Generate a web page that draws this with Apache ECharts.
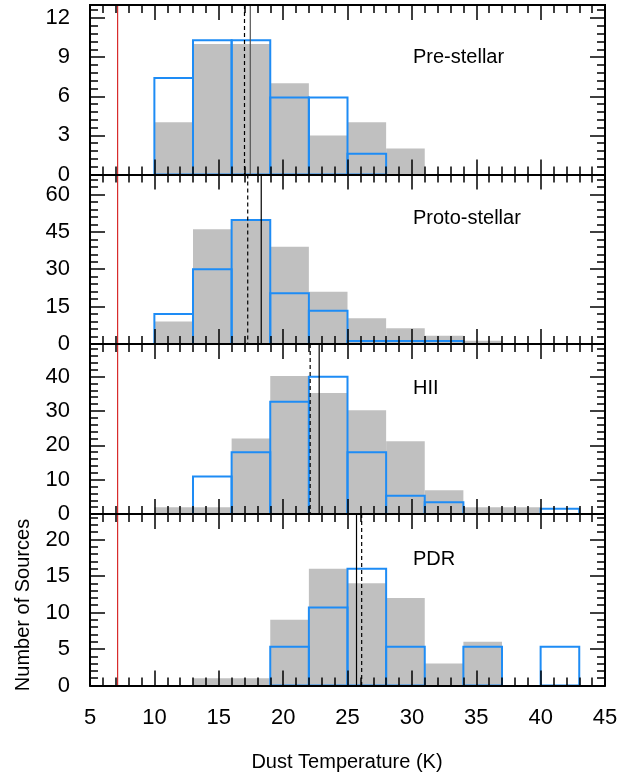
<!DOCTYPE html>
<html>
<head>
<meta charset="utf-8">
<script src="https://cdn.jsdelivr.net/npm/echarts@6/dist/echarts.min.js"></script>
<style>html,body{margin:0;padding:0;background:#fff}#c{width:629px;height:776px}</style>
</head>
<body>
<div id="c"></div>
<script>
// ---- data ----
var binStarts = [10, 13, 16, 19, 22, 25, 28, 31, 34, 37, 40];
var binWidth = 3;
var panelNames = ['Pre-stellar', 'Proto-stellar', 'HII', 'PDR'];
var preGray    = [4, 10, 10, 7, 3, 4, 2, 0, 0, 0, 0];
var preBlue    = [7.4, 10.3, 10.3, 5.9, 5.9, 1.6, 0, 0, 0, 0, 0];
var protoGray  = [9, 46, 49.4, 39, 21, 10.3, 6.3, 3.3, 1.3, 0, 0];
var protoBlue  = [12, 30, 49.7, 20.4, 13.3, 1.2, 1.2, 1.2, 0, 0, 0];
var hiiGray    = [2, 2, 22, 40.2, 35.2, 30.2, 21.2, 6.9, 2, 2, 0];
var hiiBlue    = [0, 10.9, 18, 32.7, 40, 18, 5.3, 3.4, 0, 0, 1.5];
var pdrGray    = [0, 1, 1, 9, 16, 14, 12, 3, 6, 0, 0];
var pdrBlue    = [0, 0, 0, 5.3, 10.7, 16, 5.3, 0, 5.3, 0, 5.3];
var solidMeans  = [17.45, 18.3, 22.8, 25.7];
var dashedMeans = [17.0, 17.25, 22.1, 26.1];
var refLineX = 7.15;
var yMax      = [13, 68, 49.5, 23.5];
var yMajor    = [3, 15, 10, 5];
var yMinor    = [0.6, 3, 2, 1];
var xTicks = {min: 5, max: 45, major: 5, minorSplit: 5};

var grays = [preGray, protoGray, hiiGray, pdrGray];
var blues = [preBlue, protoBlue, hiiBlue, pdrBlue];

// ---- layout ----
var tops = [5, 174.5, 344, 514];
var heights = [169.5, 169.5, 170, 171.5];
var FONT = '"Liberation Sans", Arial, sans-serif';
var BLUE = '#1e8cf5';
var GRAY = '#c0c0c0';

var grids = [], xAxes = [], yAxes = [], series = [];

function lineCfg(){ return {show:true, onZero:false, lineStyle:{color:'#000', width:2}}; }

for (var i = 0; i < 4; i++) {
  grids.push({left: 90, width: 515, top: tops[i], height: heights[i], containLabel: false});
  ['bottom', 'top'].forEach(function(pos){
    xAxes.push({
      type: 'value', gridIndex: i, position: pos,
      min: xTicks.min, max: xTicks.max, interval: xTicks.major,
      axisLine: lineCfg(),
      axisTick: {show: true, inside: true, length: 15, lineStyle: {color: '#000', width: 1.5}},
      minorTick: {show: true, splitNumber: xTicks.minorSplit, length: 8, lineStyle: {color: '#000', width: 1.5}},
      splitLine: {show: false}, minorSplitLine: {show: false},
      axisLabel: {show: (i === 3 && pos === 'bottom'), margin: 21, color: '#000', fontSize: 22, fontFamily: FONT},
      z: 10
    });
  });
  ['left', 'right'].forEach(function(pos){
    // major
    yAxes.push({
      type: 'value', gridIndex: i, position: pos,
      min: 0, max: yMax[i], interval: yMajor[i],
      axisLine: lineCfg(),
      axisTick: {show: true, inside: true, length: 15, lineStyle: {color: '#000', width: 1.5}},
      splitLine: {show: false},
      axisLabel: {show: pos === 'left', showMaxLabel: false, margin: 20, color: '#000', fontSize: 22, fontFamily: FONT},
      z: 10
    });
    // minor
    yAxes.push({
      type: 'value', gridIndex: i, position: pos,
      min: 0, max: yMax[i], interval: yMinor[i],
      axisLine: lineCfg(),
      axisTick: {show: true, inside: true, length: 8, lineStyle: {color: '#000', width: 1.5}},
      splitLine: {show: false},
      axisLabel: {show: false},
      z: 10
    });
  });
}

function binData(vals){
  var out = [];
  for (var k = 0; k < binStarts.length; k++) {
    if (vals[k] > 0) out.push([binStarts[k], binStarts[k] + binWidth, vals[k]]);
  }
  return out;
}

function makeRender(style){
  return function(params, api){
    var p0 = api.coord([api.value(0), api.value(2)]);
    var p1 = api.coord([api.value(1), 0]);
    return {type: 'rect', shape: {x: p0[0], y: p0[1], width: p1[0] - p0[0], height: p1[1] - p0[1]}, style: style};
  };
}

function vlineRender(params, api){
  var x = api.coord([api.value(0), 0])[0];
  var t = api.value(1);
  var cs = params.coordSys;
  var st;
  if (t === 0) st = {stroke: '#d00000', lineWidth: 1};
  else if (t === 1) st = {stroke: (params.seriesIndex === 2 ? '#555' : '#000'), lineWidth: 1.2};
  else st = {stroke: '#000', lineWidth: 1.2, lineDash: [4, 3]};
  return {type: 'line', shape: {x1: x, y1: cs.y, x2: x, y2: cs.y + cs.height}, style: st};
}

for (var j = 0; j < 4; j++) {
  series.push({
    type: 'custom', xAxisIndex: 2*j, yAxisIndex: 4*j, z: 2,
    renderItem: makeRender({fill: GRAY}),
    data: binData(grays[j]), silent: true
  });
  series.push({
    type: 'custom', xAxisIndex: 2*j, yAxisIndex: 4*j, z: 3,
    renderItem: makeRender({fill: 'none', stroke: BLUE, lineWidth: 2}),
    data: binData(blues[j]), silent: true
  });
  series.push({
    type: 'custom', xAxisIndex: 2*j, yAxisIndex: 4*j, z: 4,
    renderItem: vlineRender,
    data: [[refLineX, 0], [solidMeans[j], 1], [dashedMeans[j], 2]], silent: true
  });
}

var labelY = [57, 218, 388, 559];
var graphics = panelNames.map(function(n, k){
  return {type: 'text', x: 413, y: labelY[k], style: {text: n, font: '20px ' + FONT, fill: '#000', textAlign: 'left', textVerticalAlign: 'middle'}, z: 20};
});
graphics.push({type: 'text', x: 347, y: 762, style: {text: 'Dust Temperature (K)', font: '20px ' + FONT, fill: '#000', textAlign: 'center', textVerticalAlign: 'middle'}});
graphics.push({type: 'text', x: 23, y: 605, rotation: Math.PI/2, style: {text: 'Number of Sources', font: '20px ' + FONT, fill: '#000', textAlign: 'center', textVerticalAlign: 'middle'}});

var chart = echarts.init(document.getElementById('c'), null, {renderer: 'canvas'});
chart.setOption({
  animation: false,
  backgroundColor: '#fff',
  grid: grids, xAxis: xAxes, yAxis: yAxes, series: series,
  graphic: graphics
});
</script>
</body>
</html>
